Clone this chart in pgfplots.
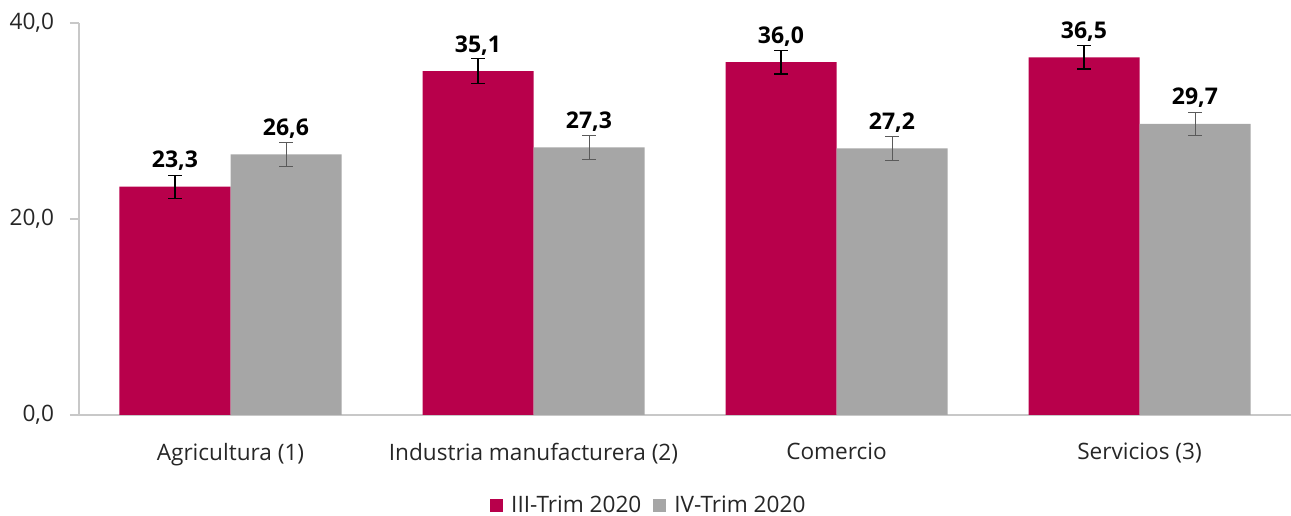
\documentclass[border=0pt]{standalone}
\usepackage{fontspec}
\setmainfont{Open Sans}
\usepackage{pgfplots}
\usepackage{pgfplotstable}
\pgfplotsset{compat=1.18}
\definecolor{rojo}{HTML}{B8004B}
\definecolor{gris}{HTML}{A6A6A6}
\definecolor{ejes}{HTML}{C8C8C8}
\definecolor{errgris}{HTML}{5A5A5A}

\pgfplotstableread{
x y e
0 23.3 1.17
1 35.1 1.25
2 36.0 1.2
3 36.5 1.2
}\tercer
\pgfplotstableread{
x y e
0 26.6 1.2
1 27.3 1.2
2 27.2 1.2
3 29.7 1.2
}\cuarto

\begin{document}
\begin{tikzpicture}
\begin{axis}[
  scale only axis, width=606pt, height=196pt,
  ybar=0pt, bar width=55.5pt,
  xmin=-0.5, xmax=3.5, ymin=0, ymax=40,
  xtick={0,1,2,3},
  xticklabels={Agricultura (1), Industria manufacturera (2), Comercio, Servicios (3)},
  ytick={0,20,40},
  axis x line*=bottom, axis y line*=left,
  axis line style={draw=ejes, line width=0.6pt},
  x axis line style={-}, y axis line style={-},
  tick align=outside,
  x tick style={draw=none},
  y tick style={draw=ejes, line width=0.6pt},
  major tick length=4.5pt,
  tick label style={font=\fontsize{11.3}{13}\selectfont, text=black!85},
  xticklabel style={yshift=-6pt},
  yticklabel style={xshift=-4.5pt},
  /pgf/number format/.cd, use comma, fixed, fixed zerofill, precision=1, assume math mode=true,
  /pgfplots/.cd,
  nodes near coords,
  every node near coord/.append style={font=\fontsize{11.5}{13}\selectfont\bfseries, text=black, anchor=base, yshift=9.5pt},
  legend style={at={(0.471,-0.232)}, anchor=center, draw=none, legend columns=2,
    font=\fontsize{11.3}{13}\selectfont, text=black!85,
    /tikz/every even column/.append style={column sep=4pt}},
  legend image code/.code={\fill[#1] (0pt,-3.2pt) rectangle (6.5pt,3.3pt); \path (8.5pt,0pt);},
]
\addplot[fill=rojo, draw=none,
  error bars/.cd, y dir=both, y explicit,
  error bar style={black, line width=0.6pt},
  error mark options={rotate=90, black, mark size=3.3pt, line width=0.6pt}]
  table[x=x, y=y, y error=e] {\tercer};
\addplot[fill=gris, draw=none,
  error bars/.cd, y dir=both, y explicit,
  error bar style={errgris, line width=0.5pt},
  error mark options={rotate=90, errgris, mark size=3.3pt, line width=0.5pt}]
  table[x=x, y=y, y error=e] {\cuarto};
\legend{III-Trim 2020, IV-Trim 2020}
\coordinate (sw) at (rel axis cs:0,0);
\coordinate (ne) at (rel axis cs:1,1);
\end{axis}
\pgfresetboundingbox
\path ([shift={(-39.5pt,-50.5pt)}]sw) rectangle ([shift={(0pt,11.5pt)}]ne);
\end{tikzpicture}
\end{document}
